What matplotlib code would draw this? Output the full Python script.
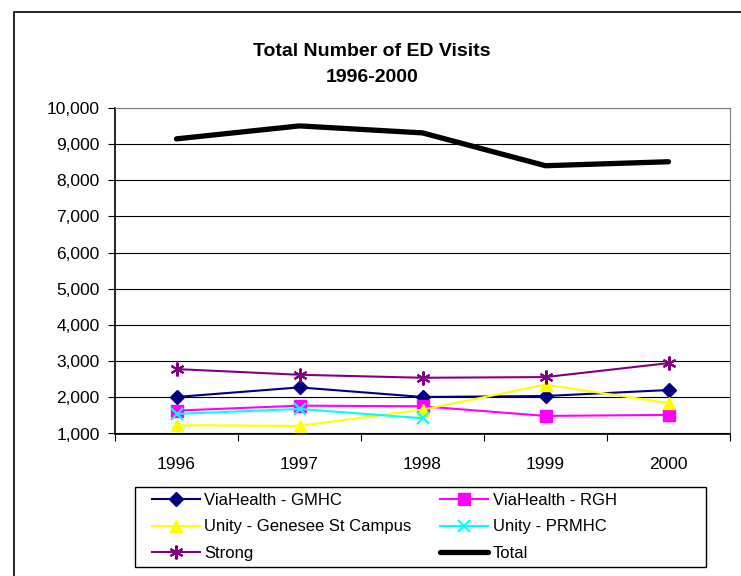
import matplotlib
matplotlib.use("Agg")
import matplotlib.pyplot as plt
from matplotlib.patches import Rectangle
from matplotlib.ticker import FuncFormatter

plt.rcParams['font.family'] = ['Liberation Sans', 'DejaVu Sans']

years = ["1996", "1997", "1998", "1999", "2000"]
gmhc = [2010, 2275, 2010, 2037, 2202]
rgh = [1633, 1770, 1752, 1486, 1514]
genesee = [1229, 1211, 1660, 2349, 1844]
prmhc = [1541, 1679, 1422]
strong = [2781, 2624, 2541, 2560, 2946]
total = [9147, 9505, 9312, 8404, 8514]

W, H = 741, 576
fig = plt.figure(figsize=(W / 100, H / 100), dpi=100)
ax = fig.add_axes([115 / W, 1 - 433.5 / H, (730 - 115) / W, (433.5 - 108) / H])

x = list(range(len(years)))
h1, = ax.plot(x, gmhc, color='#000080', lw=1.5, marker='D', ms=7, label='ViaHealth - GMHC')
h2, = ax.plot(x, rgh, color='#FF00FF', lw=1.5, marker='s', ms=8, label='ViaHealth - RGH')
h3, = ax.plot(x, genesee, color='#FFFF00', lw=1.5, marker='^', ms=8.5, label='Unity - Genesee St Campus')
h4, = ax.plot(x[:len(prmhc)], prmhc, color='#00FFFF', lw=1.5, marker='x', ms=8, mew=1.5, label='Unity - PRMHC')
h5, = ax.plot(x, strong, color='#800080', lw=1.5, marker=(6, 2, 0), ms=10, mew=1.5, label='Strong')
h6, = ax.plot(x, total, color='black', lw=3.8, solid_capstyle='round', label='Total')

ax.set_xlim(-0.5, len(years) - 0.5)
ax.set_ylim(1000, 10000)
ax.set_yticks(range(1000, 10001, 1000))
ax.yaxis.set_major_formatter(FuncFormatter(lambda v, p: f"{int(v):,}"))
ax.yaxis.grid(True, color='black', lw=0.8)
ax.set_axisbelow(True)

ax.set_xticks([i - 0.5 for i in range(len(years) + 1)])
ax.set_xticklabels([])
ax.set_xticks(x, minor=True)
ax.set_xticklabels(years, minor=True)
ax.tick_params(axis='x', which='minor', length=0, pad=17, labelsize=12.5)
ax.tick_params(axis='x', which='major', direction='out', length=5, color='black')
ax.tick_params(axis='y', direction='out', length=5, labelsize=12.5, pad=6)

for s in ['top', 'right']:
    ax.spines[s].set_color('#808080')
for s in ['left', 'bottom']:
    ax.spines[s].set_color('black')
    ax.spines[s].set_linewidth(1.2)

fig.text(0.502, 1 - 51 / H, "Total Number of ED Visits", ha='center', va='center',
         fontsize=14, fontweight='bold')
fig.text(0.502, 1 - 78 / H, "1996-2000", ha='center', va='center',
         fontsize=14, fontweight='bold')

handles = [h1, h3, h5, h2, h4, h6]
leg = fig.legend(handles, [h.get_label() for h in handles], ncol=2, loc='upper left',
                 bbox_to_anchor=(152 / W, 1 - 493 / H), borderaxespad=0, borderpad=0,
                 frameon=False, fontsize=12, handlelength=2.9, handletextpad=0.25,
                 columnspacing=1.7, labelspacing=0.68)

# legend frame drawn separately so it can be wider than its contents
fig.patches.append(Rectangle((135 / W, 1 - 567 / H), (706 - 135) / W, 80 / H,
                             transform=fig.transFigure, fill=False, lw=1.0, ec='black'))

fig.patches.append(Rectangle((14 / W, -0.1), 1, 1.1 - 12 / H, transform=fig.transFigure,
                             fill=False, lw=1.2, ec='black'))

fig.savefig("out.png", dpi=100)
